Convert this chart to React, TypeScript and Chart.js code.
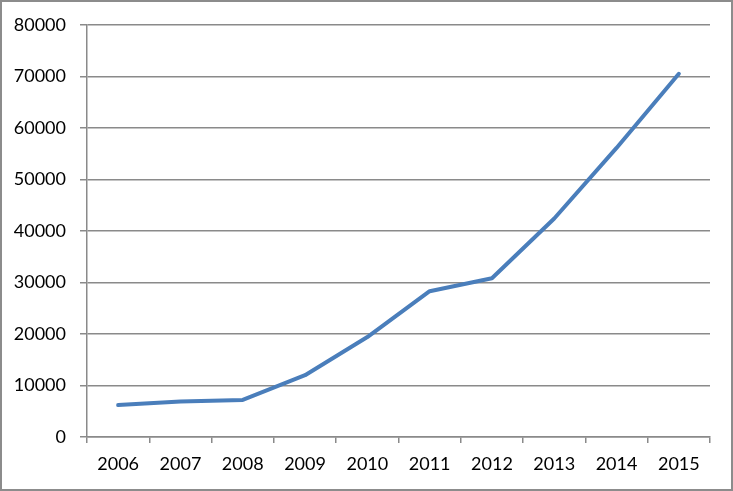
import React, { useEffect, useRef } from "react";
import { Chart, registerables } from "chart.js";

Chart.register(...registerables);

const years = ["2006", "2007", "2008", "2009", "2010", "2011", "2012", "2013", "2014", "2015"];
const values = [6200, 6900, 7200, 12000, 19400, 28300, 30800, 42400, 56100, 70500];
const yMin = 0;
const yMax = 80000;
const yStep = 10000;

export default function App() {
  const ref = useRef<HTMLCanvasElement | null>(null);

  useEffect(() => {
    document.body.style.margin = "0";
    const ctx = ref.current!.getContext("2d")!;
    const font = { family: "Lato", size: 18 };
    const chart = new Chart(ctx, {
      type: "line",
      data: {
        labels: years,
        datasets: [
          {
            data: values,
            borderColor: "#4a7ebb",
            borderWidth: 4,
            pointRadius: 0,
            tension: 0,
            borderCapStyle: "round",
            borderJoinStyle: "round",
            fill: false,
          },
        ],
      },
      options: {
        animation: false,
        responsive: false,
        maintainAspectRatio: false,
        layout: { padding: { left: 0, top: 24, right: 23, bottom: 0 } },
        plugins: { legend: { display: false }, tooltip: { enabled: false } },
        scales: {
          x: {
            type: "category",
            offset: true,
            grid: {
              offset: true,
              drawOnChartArea: false,
              drawTicks: true,
              tickLength: 6,
              color: "#8a8a8a",
              lineWidth: 1.5,
            },
            border: { display: true, color: "#8a8a8a", width: 1.5 },
            ticks: { color: "#000", font, padding: 10, maxRotation: 0, autoSkip: false },
            afterFit: (s: any) => {
              s.height = 54;
            },
          },
          y: {
            min: yMin,
            max: yMax,
            grid: { color: "#8a8a8a", lineWidth: 1.5, tickLength: 7 },
            border: { display: true, color: "#8a8a8a", width: 1.5 },
            ticks: {
              stepSize: yStep,
              color: "#000",
              font,
              padding: 14,
              callback: (v: any) => String(v),
            },
            afterFit: (s: any) => {
              s.width = 87;
            },
          },
        },
      },
    });
    return () => chart.destroy();
  }, []);

  return (
    <div
      style={{
        position: "absolute",
        left: 0,
        top: 0,
        width: 733,
        height: 491,
        boxSizing: "border-box",
        border: "2px solid #8c8c8c",
        background: "#fff",
      }}
    >
      <canvas ref={ref} width={733} height={491} style={{ position: "absolute", left: -2, top: -2 }} />
    </div>
  );
}
